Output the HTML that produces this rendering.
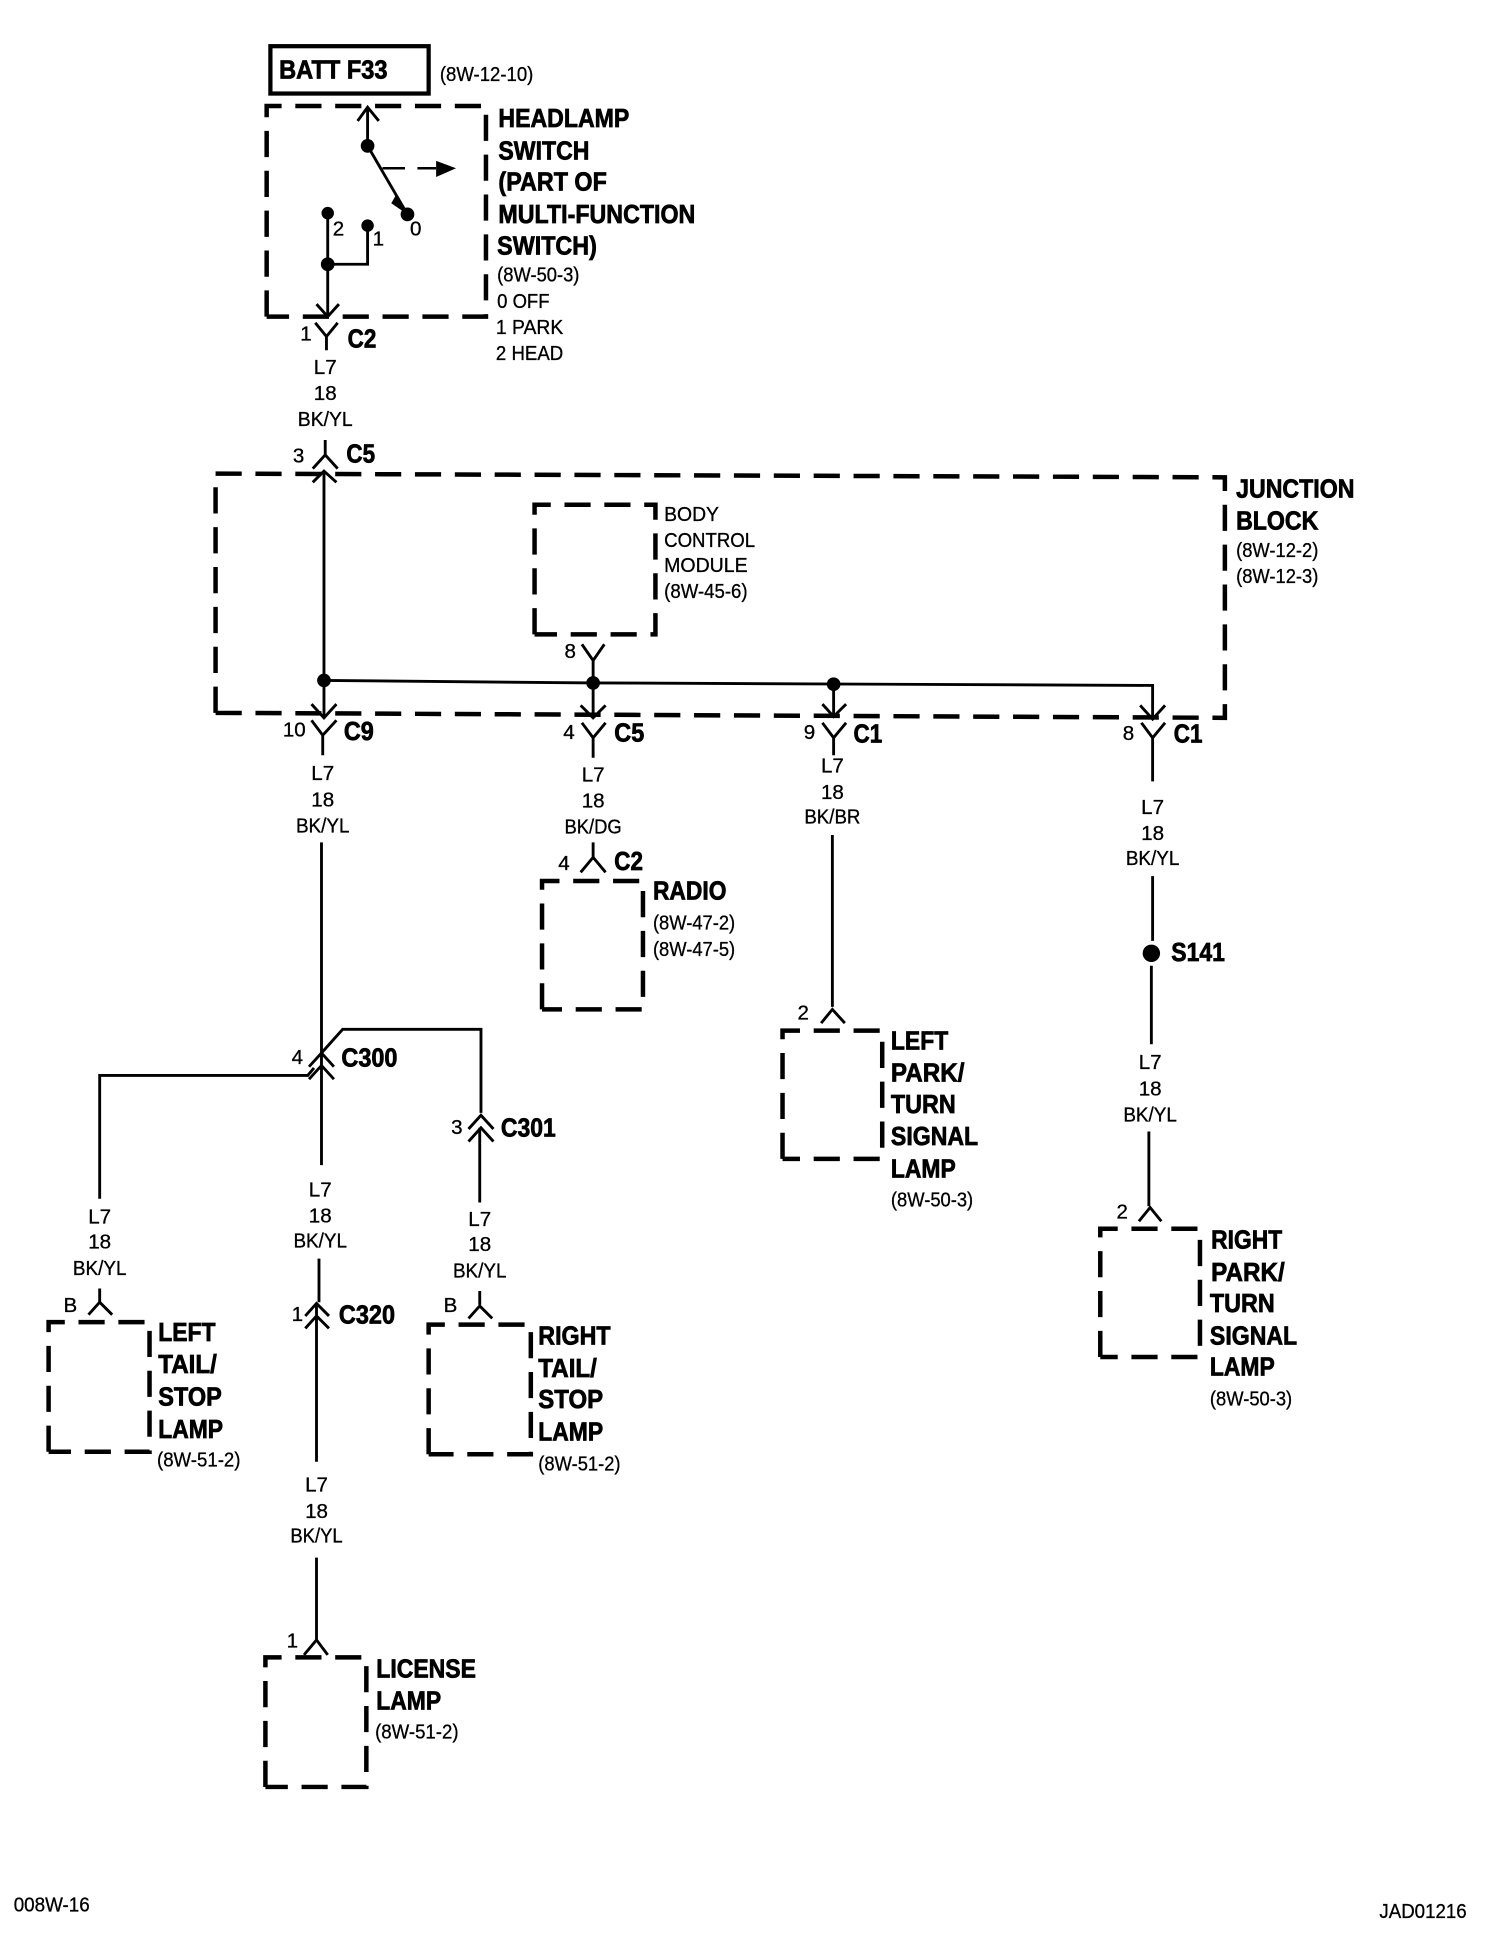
<!DOCTYPE html>
<html><head><meta charset="utf-8"><style>
html,body{margin:0;padding:0;background:#fff}
svg{display:block}
text{font-family:"Liberation Sans",sans-serif;fill:#000}
.b{font-weight:bold;font-size:21px;stroke:#000;stroke-width:.6;transform:translateY(-1px)}
.r{font-size:16.5px;stroke:#000;stroke-width:.25}
.m{text-anchor:middle}
.w{fill:none;stroke:#000;stroke-width:2.3}
.d{fill:none;stroke:#000;stroke-width:3.6;stroke-dasharray:21 11}
</style></head><body>
<svg width="1504" height="1954" viewBox="0 0 1207 1568" xmlns="http://www.w3.org/2000/svg">
<rect width="1224" height="1590" fill="#fff"/>
<!-- boxes -->
<rect x="217" y="37" width="127" height="38" fill="none" stroke="#000" stroke-width="3.4"/>
<path class="d" d="M214 254V85H390V254H214"/>
<path class="d" d="M173 572V380L983 383V576L173 572"/>
<path class="d" d="M429 509V405H526V509H429"/>
<path class="d" d="M435 810V707H516V810H435"/>
<path class="d" d="M628 930V827H708V930H628"/>
<path class="d" d="M883 1089V986H963V1089H883"/>
<path class="d" d="M39 1165V1061H120V1165H39"/>
<path class="d" d="M344 1167V1063H426V1167H344"/>
<path class="d" d="M213 1434V1330H294V1434H213"/>
<!-- switch -->
<g class="w">
<path d="M295 86V117L327 172M287 97L295 86L304 97"/>
<path d="M263 171V254M254 244L263 254L272 244M263 212H295V181"/>
<path d="M307 135H325M335 135H350" stroke-width="2"/>
<path d="M253 259L262 270L271 259M262 270V281"/>
<path d="M261 353V365M251 376L261 365L271 376"/>
<path d="M251 387L260 378L270 387M260 378V576M250 565L260 576L270 565"/>
<path d="M260 546L476 548L925 550V577M915 566L925 577L935 566"/>
<path d="M467 517L476 530L485 517M476 530V576M466 566L476 576L486 566"/>
<path d="M669 549V575M660 565L669 575L679 565"/>
<path d="M250 578L259 590L270 578M259 590V606"/>
<path d="M467 580L476 592L486 580M476 592V608"/>
<path d="M660 580L669 592L679 580M669 592V606"/>
<path d="M916 580L925 592L935 580M925 592V627"/>
<path d="M258 676V935"/>
<path d="M476 676V688M466 700L476 688L486 700"/>
<path d="M668 670V808M659 821L668 810L678 821"/>
<path d="M925 703V755M924 775V838M922 908V968M914 980L923 969L932 980"/>
<path d="M248 856L258 845L268 856M248 866L258 855L268 866"/>
<path d="M258 845L275 826H386V893"/>
<path d="M80 962V863H247L252 857"/>
<path d="M376 906L386 895L396 906M376 916L386 905L396 916M385 905V965"/>
<path d="M80 1034V1045M71 1055L80 1045L90 1055"/>
<path d="M256 1010V1045M245 1056L254 1046L264 1056M245 1066L254 1056L264 1066M254 1047V1173"/>
<path d="M385 1036V1047M376 1058L385 1048L395 1058"/>
<path d="M254 1250V1317M244 1328L254 1316L263 1328"/>
</g>
<circle cx="295" cy="117" r="5.5"/><circle cx="327" cy="172" r="5.5"/><circle cx="263" cy="171" r="5"/><circle cx="295" cy="181" r="5"/><circle cx="263" cy="212" r="5.5"/>
<circle cx="260" cy="546" r="5.5"/><circle cx="476" cy="548" r="5.5"/><circle cx="669" cy="549" r="5.5"/><circle cx="924" cy="765" r="7"/>
<path d="M350 129L366 135L350 142Z"/><path d="M318 156L327 172L314 163Z"/>
<!-- labels -->
<text class="b" x="224" y="64" textLength="87" lengthAdjust="spacingAndGlyphs">BATT F33</text>
<text class="r" x="353" y="65" textLength="75" lengthAdjust="spacingAndGlyphs">(8W-12-10)</text>
<text class="b" x="400" y="103" textLength="105" lengthAdjust="spacingAndGlyphs">HEADLAMP</text>
<text class="b" x="400" y="129" textLength="73" lengthAdjust="spacingAndGlyphs">SWITCH</text>
<text class="b" x="400" y="154" textLength="87" lengthAdjust="spacingAndGlyphs">(PART OF</text>
<text class="b" x="400" y="180" textLength="158" lengthAdjust="spacingAndGlyphs">MULTI-FUNCTION</text>
<text class="b" x="399" y="205" textLength="80" lengthAdjust="spacingAndGlyphs">SWITCH)</text>
<text class="r" x="399" y="226" textLength="66" lengthAdjust="spacingAndGlyphs">(8W-50-3)</text>
<text class="r" x="399" y="247" textLength="42" lengthAdjust="spacingAndGlyphs">0 OFF</text>
<text class="r" x="398" y="268" textLength="54" lengthAdjust="spacingAndGlyphs">1 PARK</text>
<text class="r" x="398" y="289" textLength="54" lengthAdjust="spacingAndGlyphs">2 HEAD</text>
<text class="r" x="267" y="189" font-size="14">2</text><text class="r" x="299" y="197">1</text><text class="r" x="329" y="189">0</text>
<text class="r" x="241" y="273">1</text><text class="b" x="279" y="280" textLength="23" lengthAdjust="spacingAndGlyphs">C2</text>
<text class="r m" x="261" y="300">L7</text><text class="r m" x="261" y="321">18</text><text class="r m" x="261" y="342" textLength="44" lengthAdjust="spacingAndGlyphs">BK/YL</text>
<text class="r" x="235" y="371">3</text><text class="b" x="278" y="372" textLength="23" lengthAdjust="spacingAndGlyphs">C5</text>
<text class="b" x="992" y="400" textLength="95" lengthAdjust="spacingAndGlyphs">JUNCTION</text>
<text class="b" x="992" y="426" textLength="66" lengthAdjust="spacingAndGlyphs">BLOCK</text>
<text class="r" x="992" y="447" textLength="66" lengthAdjust="spacingAndGlyphs">(8W-12-2)</text>
<text class="r" x="992" y="468" textLength="66" lengthAdjust="spacingAndGlyphs">(8W-12-3)</text>
<text class="r" x="533" y="418" textLength="44" lengthAdjust="spacingAndGlyphs">BODY</text>
<text class="r" x="533" y="439" textLength="73" lengthAdjust="spacingAndGlyphs">CONTROL</text>
<text class="r" x="533" y="459" textLength="67" lengthAdjust="spacingAndGlyphs">MODULE</text>
<text class="r" x="533" y="480" textLength="67" lengthAdjust="spacingAndGlyphs">(8W-45-6)</text>
<text class="r" x="453" y="528">8</text>
<text class="r" x="227" y="591">10</text><text class="b" x="276" y="595" textLength="24" lengthAdjust="spacingAndGlyphs">C9</text>
<text class="r m" x="259" y="626">L7</text><text class="r m" x="259" y="647">18</text><text class="r m" x="259" y="668" textLength="43" lengthAdjust="spacingAndGlyphs">BK/YL</text>
<text class="r" x="452" y="593">4</text><text class="b" x="493" y="596" textLength="24" lengthAdjust="spacingAndGlyphs">C5</text>
<text class="r m" x="476" y="627">L7</text><text class="r m" x="476" y="648">18</text><text class="r m" x="476" y="669" textLength="46" lengthAdjust="spacingAndGlyphs">BK/DG</text>
<text class="r" x="645" y="593">9</text><text class="b" x="685" y="597" textLength="23" lengthAdjust="spacingAndGlyphs">C1</text>
<text class="r m" x="668" y="620">L7</text><text class="r m" x="668" y="641">18</text><text class="r m" x="668" y="661" textLength="45" lengthAdjust="spacingAndGlyphs">BK/BR</text>
<text class="r" x="901" y="594">8</text><text class="b" x="942" y="597" textLength="23" lengthAdjust="spacingAndGlyphs">C1</text>
<text class="r m" x="925" y="653">L7</text><text class="r m" x="925" y="674">18</text><text class="r m" x="925" y="694" textLength="43" lengthAdjust="spacingAndGlyphs">BK/YL</text>
<text class="r" x="448" y="698">4</text><text class="b" x="493" y="699" textLength="23" lengthAdjust="spacingAndGlyphs">C2</text>
<text class="b" x="524" y="723" textLength="59" lengthAdjust="spacingAndGlyphs">RADIO</text>
<text class="r" x="524" y="746" textLength="66" lengthAdjust="spacingAndGlyphs">(8W-47-2)</text>
<text class="r" x="524" y="767" textLength="66" lengthAdjust="spacingAndGlyphs">(8W-47-5)</text>
<text class="b" x="940" y="772" textLength="43" lengthAdjust="spacingAndGlyphs">S141</text>
<text class="r" x="640" y="818">2</text>
<text class="b" x="715" y="843" textLength="46" lengthAdjust="spacingAndGlyphs">LEFT</text>
<text class="b" x="715" y="869" textLength="59" lengthAdjust="spacingAndGlyphs">PARK/</text>
<text class="b" x="715" y="894" textLength="52" lengthAdjust="spacingAndGlyphs">TURN</text>
<text class="b" x="715" y="920" textLength="70" lengthAdjust="spacingAndGlyphs">SIGNAL</text>
<text class="b" x="715" y="946" textLength="52" lengthAdjust="spacingAndGlyphs">LAMP</text>
<text class="r" x="715" y="968" textLength="66" lengthAdjust="spacingAndGlyphs">(8W-50-3)</text>
<text class="r" x="896" y="978">2</text>
<text class="b" x="972" y="1003" textLength="57" lengthAdjust="spacingAndGlyphs">RIGHT</text>
<text class="b" x="972" y="1029" textLength="59" lengthAdjust="spacingAndGlyphs">PARK/</text>
<text class="b" x="971" y="1054" textLength="52" lengthAdjust="spacingAndGlyphs">TURN</text>
<text class="b" x="971" y="1080" textLength="70" lengthAdjust="spacingAndGlyphs">SIGNAL</text>
<text class="b" x="971" y="1105" textLength="52" lengthAdjust="spacingAndGlyphs">LAMP</text>
<text class="r" x="971" y="1128" textLength="66" lengthAdjust="spacingAndGlyphs">(8W-50-3)</text>
<text class="r m" x="923" y="858">L7</text><text class="r m" x="923" y="879">18</text><text class="r m" x="923" y="900" textLength="43" lengthAdjust="spacingAndGlyphs">BK/YL</text>
<text class="r" x="234" y="854">4</text><text class="b" x="274" y="857" textLength="45" lengthAdjust="spacingAndGlyphs">C300</text>
<text class="r" x="362" y="910">3</text><text class="b" x="402" y="913" textLength="44" lengthAdjust="spacingAndGlyphs">C301</text>
<text class="r m" x="257" y="960">L7</text><text class="r m" x="257" y="981">18</text><text class="r m" x="257" y="1001" textLength="43" lengthAdjust="spacingAndGlyphs">BK/YL</text>
<text class="r m" x="80" y="982">L7</text><text class="r m" x="80" y="1002">18</text><text class="r m" x="80" y="1023" textLength="43" lengthAdjust="spacingAndGlyphs">BK/YL</text>
<text class="r m" x="385" y="984">L7</text><text class="r m" x="385" y="1004">18</text><text class="r m" x="385" y="1025" textLength="43" lengthAdjust="spacingAndGlyphs">BK/YL</text>
<text class="r" x="51" y="1053">B</text>
<text class="b" x="127" y="1077" textLength="46" lengthAdjust="spacingAndGlyphs">LEFT</text>
<text class="b" x="127" y="1103" textLength="47" lengthAdjust="spacingAndGlyphs">TAIL/</text>
<text class="b" x="127" y="1129" textLength="51" lengthAdjust="spacingAndGlyphs">STOP</text>
<text class="b" x="127" y="1155" textLength="52" lengthAdjust="spacingAndGlyphs">LAMP</text>
<text class="r" x="126" y="1177" textLength="67" lengthAdjust="spacingAndGlyphs">(8W-51-2)</text>
<text class="r" x="234" y="1060">1</text><text class="b" x="272" y="1063" textLength="45" lengthAdjust="spacingAndGlyphs">C320</text>
<text class="r" x="356" y="1053">B</text>
<text class="b" x="432" y="1080" textLength="58" lengthAdjust="spacingAndGlyphs">RIGHT</text>
<text class="b" x="432" y="1106" textLength="47" lengthAdjust="spacingAndGlyphs">TAIL/</text>
<text class="b" x="432" y="1131" textLength="52" lengthAdjust="spacingAndGlyphs">STOP</text>
<text class="b" x="432" y="1157" textLength="52" lengthAdjust="spacingAndGlyphs">LAMP</text>
<text class="r" x="432" y="1180" textLength="66" lengthAdjust="spacingAndGlyphs">(8W-51-2)</text>
<text class="r m" x="254" y="1197">L7</text><text class="r m" x="254" y="1218">18</text><text class="r m" x="254" y="1238" textLength="42" lengthAdjust="spacingAndGlyphs">BK/YL</text>
<text class="r" x="230" y="1322">1</text>
<text class="b" x="302" y="1347" textLength="80" lengthAdjust="spacingAndGlyphs">LICENSE</text>
<text class="b" x="302" y="1373" textLength="52" lengthAdjust="spacingAndGlyphs">LAMP</text>
<text class="r" x="301" y="1395" textLength="67" lengthAdjust="spacingAndGlyphs">(8W-51-2)</text>
<text class="r" x="11" y="1534" textLength="61" lengthAdjust="spacingAndGlyphs">008W-16</text>
<text class="r" x="1107" y="1539" textLength="70" lengthAdjust="spacingAndGlyphs">JAD01216</text>
</svg>
</body></html>
